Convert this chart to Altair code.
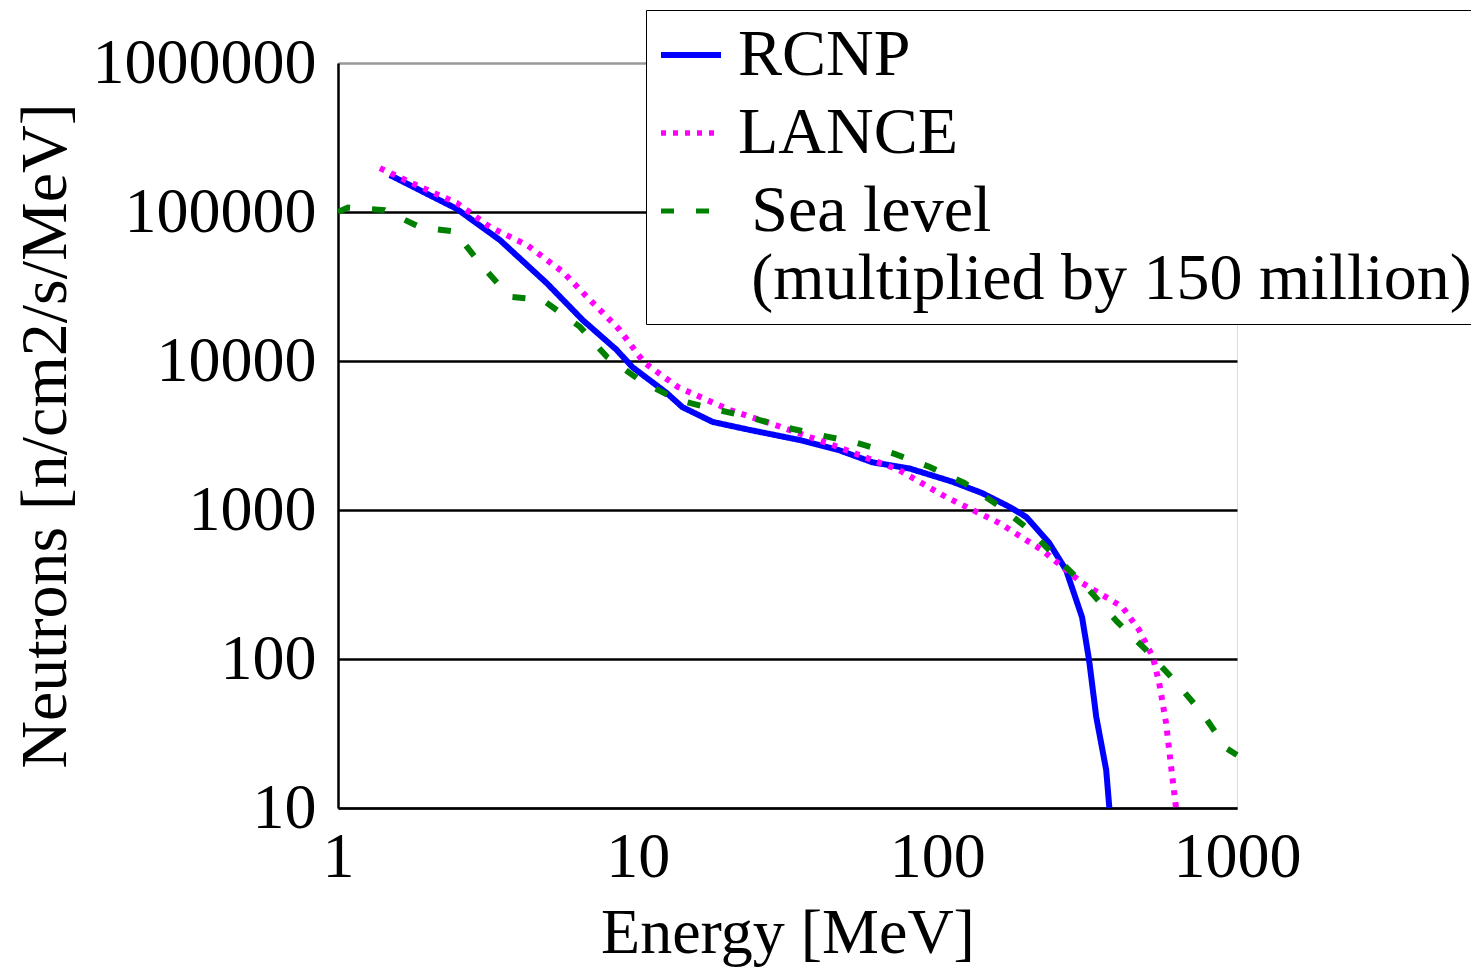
import altair as alt
import pandas as pd

series_names = ["RCNP", "LANCE", "Sea level"]

rcnp_e = [1.49, 2.49, 3.47, 4.98, 6.56, 8.5, 9.6, 12.5, 14.1, 17.8, 23.6, 34.7, 47, 60.7, 80.7, 112, 141, 174, 198, 236, 269, 304, 321, 339, 366, 375]
rcnp_n = [177000, 105000, 64800, 33200, 18800, 11900, 9100, 6100, 4900, 3900, 3450, 2950, 2520, 2090, 1900, 1550, 1300, 1050, 898, 602, 395, 191, 98, 41, 18, 10]

lance_e = [1.38, 1.83, 2.49, 3.21, 4.27, 5.62, 6.92, 8.7, 10.5, 13.6, 20.3, 27.5, 44.7, 74.7, 107, 161, 224, 304, 414, 471, 524, 550, 580, 603, 626]
lance_n = [197000, 151000, 115000, 79500, 60000, 39700, 25800, 16200, 9790, 6700, 4680, 3840, 2730, 1850, 1220, 818, 537, 324, 224, 157, 103, 69, 37, 18.8, 10]

sea_e = [1.0, 1.08, 1.43, 1.88, 2.45, 3.02, 3.74, 4.82, 6.41, 7.88, 10.2, 13.5, 17.7, 23.6, 30.9, 41, 54, 72, 94, 123, 159, 203, 255, 321, 398, 497, 617, 764, 926, 1000]
sea_n = [100000, 107000, 103000, 79000, 74000, 43700, 27000, 25700, 17000, 10700, 7400, 5500, 4800, 4200, 3600, 3170, 2820, 2380, 1950, 1520, 1080, 735, 460, 290, 178, 115, 72, 43.5, 25, 22.7]

y_ticks = [10, 100, 1000, 10000, 100000, 1000000]
x_ticks = [1, 10, 100, 1000]

rows = []
for name, es, ns in zip(series_names, [rcnp_e, lance_e, sea_e], [rcnp_n, lance_n, sea_n]):
    for i, (e, n) in enumerate(zip(es, ns)):
        rows.append({"series": name, "energy": e, "neutrons": n, "order": i})
df = pd.DataFrame(rows)

FONT = "Liberation Serif"

legend = alt.Legend(
    title=None,
    orient="none",
    legendX=308,
    legendY=-53,
    labelFont=FONT,
    labelFontSize=66,
    labelColor="black",
    labelLimit=1000,
    labelOffset=14,
    symbolType="stroke",
    symbolSize=3600,
    symbolStrokeWidth=5,
    rowPadding=12,
    padding=12,
    strokeColor="black",
    fillColor="white",
    labelExpr="datum.label == 'Sea level' ? ['\u200b\u2009Sea level', '\u200b\u2009(multiplied by 150 million)'] : datum.label",
)

chart = alt.Chart(df).mark_line(strokeWidth=6, clip=False).encode(
    x=alt.X("energy:Q",
            scale=alt.Scale(type="log", domain=[1, 1000]),
            axis=alt.Axis(values=x_ticks, format="d", grid=False, ticks=False,
                          labelFont=FONT, labelFontSize=64, labelColor="black",
                          labelPadding=17, labelFlush=False, labelLimit=400,
                          domainColor="black", domainWidth=2,
                          title="Energy [MeV]", titleFont=FONT, titleFontSize=64,
                          titleFontWeight="normal", titleColor="black", titlePadding=12)),
    y=alt.Y("neutrons:Q",
            scale=alt.Scale(type="log", domain=[10, 1000000]),
            axis=alt.Axis(values=y_ticks, format="d", grid=True, ticks=False,
                          gridColor={"condition": {"test": "datum.value >= 1000000", "value": "#999999"}, "value": "black"},
                          gridWidth=2.5, gridOpacity=1,
                          labelFont=FONT, labelFontSize=64, labelColor="black",
                          labelPadding=22, labelFlush=False, labelLimit=400,
                          domainColor="black", domainWidth=2.5,
                          title="Neutrons [n/cm2/s/MeV]", titleFont=FONT, titleFontSize=66,
                          titleFontWeight="normal", titleColor="black", titlePadding=59)),
    color=alt.Color("series:N",
                    scale=alt.Scale(domain=series_names, range=["#0000ff", "#ff00ff", "#008000"]),
                    legend=legend),
    strokeDash=alt.StrokeDash("series:N",
                              scale=alt.Scale(domain=series_names, range=[[1, 0], [5, 7], [13, 22]]),
                              legend=legend),
    strokeWidth=alt.StrokeWidth("series:N",
                                scale=alt.Scale(domain=series_names, range=[6, 5, 7]),
                                legend=None),
    order="order:Q",
).properties(
    width=899,
    height=745,
    autosize=alt.AutoSizeParams(type="none"),
    padding={"left": 330, "top": 55, "right": 234, "bottom": 163},
).configure_view(
    stroke="#999999",
    strokeWidth=2,
).configure(background="white")

chart.save("out.html", embed_options={"renderer": "svg", "actions": False})
